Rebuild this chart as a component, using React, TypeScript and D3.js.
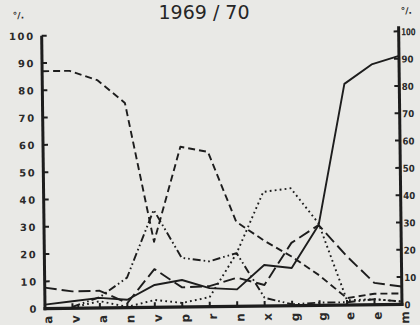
import React from "react";
import * as d3 from "d3";

const title = "1969 / 70";
const unitLabel = "°/.";
const xLabels = ["a", "v", "a", "n", "v", "p", "r", "n", "x", "g", "g", "e", "e", "m"];
const yTicks = [0, 10, 20, 30, 40, 50, 60, 70, 80, 90, 100];

const solid = [1.5, 2.6, 3.7, 2.9, 8.2, 9.9, 6.8, 6.2, 15, 13.8, 29.4, 81, 88, 91];
const mediumDash = [87, 87, 83.5, 75, 24, 58.7, 56.7, 31, 24, 18, 11, 2.5, 4, 4];
const longDash = [7.7, 6.2, 6.3, 1.7, 14, 7.2, 7.5, 10.5, 7.7, 23, 29.4, 18, 8, 6.5];
const dashDotDot = [null, 0.5, 4, 11, 35.7, 18, 16.6, 19.5, 3, 0.5, 1, 1, 2, 1];
const dotted = [null, 0.3, 2.5, 0.3, 2.7, 1.5, 3.5, 19.4, 41.8, 43, 30, 1.7, 2, 1];

const series = [
  { values: solid, dash: "none" },
  { values: mediumDash, dash: "7 4" },
  { values: longDash, dash: "12 5" },
  { values: dashDotDot, dash: "8 3 1.6 3 1.6 3" },
  { values: dotted, dash: "1.8 3.2" },
];

const W = 420;
const H = 325;
const X0 = 45;
const X1 = 402;
const Y0 = 306.5;
const Y100 = 33.5;
const ink = "#1d1d1d";
const font = "'DejaVu Sans', Verdana, sans-serif";

export default function App() {
  const x = d3.scalePoint<string>().domain(xLabels.map((_, i) => String(i))).range([X0, X1]);
  const y = d3.scaleLinear().domain([0, 100]).range([Y0, Y100]);
  const line = d3
    .line<number | null>()
    .defined((d) => d !== null)
    .x((_, i) => x(String(i)) as number)
    .y((d) => y(d as number));

  return (
    <svg
      width={W}
      height={H}
      style={{ position: "absolute", left: 0, top: 0, background: "#e9e9e6" }}
    >
      <rect x={0} y={0} width={W} height={H} fill="#e9e9e6" />
      <text x={204} y={19} textAnchor="middle" fontFamily={font} fontSize={19} fill="#262626">
        {title}
      </text>
      <g transform={`rotate(-0.7, ${(X0 + X1) / 2}, ${Y0})`}>
        <text x={22} y={16} textAnchor="middle" fontFamily={font} fontSize={9} fontWeight="bold" fill="#2a2a2a">
          {unitLabel}
        </text>
        <text x={410} y={16} textAnchor="middle" fontFamily={font} fontSize={9} fontWeight="bold" fill="#2a2a2a">
          {unitLabel}
        </text>
        {/* axes */}
        <line x1={X0} x2={X0} y1={Y0 + 1.5} y2={Y100} stroke={ink} strokeWidth={3} />
        <line x1={X1} x2={X1} y1={Y0 + 1.5} y2={Y100 - 5} stroke={ink} strokeWidth={3} />
        <line x1={X0 - 1.5} x2={X1 + 1.5} y1={Y0} y2={Y0} stroke={ink} strokeWidth={3.2} />
        {yTicks.map((t) => (
          <g key={t}>
            <line x1={X0} x2={X0 + 5} y1={y(t)} y2={y(t)} stroke={ink} strokeWidth={2} />
            <line x1={X1} x2={X1 - 5} y1={y(t)} y2={y(t)} stroke={ink} strokeWidth={2} />
            <text
              x={38}
              y={y(t) + 4}
              textAnchor="end"
              fontFamily={font}
              fontSize={10}
              fontWeight="bold"
              letterSpacing={1.6}
              fill="#2a2a2a"
            >
              {t}
            </text>
            <text
              x={404.5}
              y={y(t) + 4}
              textAnchor="start"
              fontFamily={font}
              fontSize={9.5}
              fontWeight="bold"
              textLength={String(t).length === 3 ? 14.5 : String(t).length === 2 ? 12 : 6}
              lengthAdjust="spacingAndGlyphs"
              fill="#2a2a2a"
            >
              {t}
            </text>
          </g>
        ))}
        {xLabels.map((l, i) => {
          const px = x(String(i)) as number;
          return (
            <g key={i}>
              <line x1={px} x2={px} y1={Y0} y2={Y0 - 5} stroke={ink} strokeWidth={2} />
              <text
                transform={`translate(${px + 7}, ${Y0 + 7}) rotate(-90)`}
                textAnchor="end"
                fontFamily={font}
                fontSize={12}
                fontWeight="bold"
                fill="#2a2a2a"
              >
                {l}
              </text>
            </g>
          );
        })}
        {series.map((s, i) => (
          <path
            key={i}
            d={line(s.values) || ""}
            fill="none"
            stroke={ink}
            strokeWidth={1.9}
            strokeDasharray={s.dash}
            strokeLinejoin="round"
          />
        ))}
      </g>
    </svg>
  );
}
